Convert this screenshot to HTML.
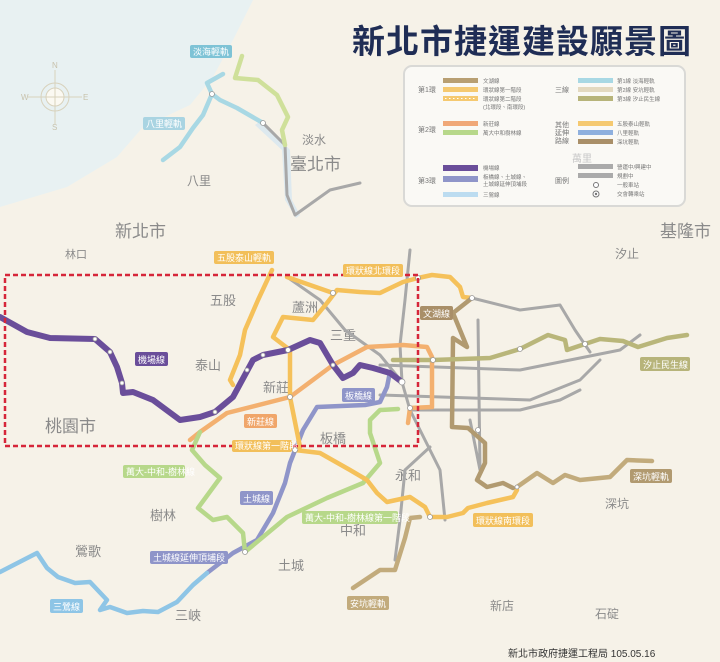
<!DOCTYPE html><html><head><meta charset="utf-8"><style>
body{margin:0;width:720px;height:662px;overflow:hidden;background:#f6f2e8;font-family:"Liberation Sans","Noto Sans CJK TC",sans-serif}
svg{display:block}
.d{font-size:17px;fill:#8a8a8a}
.b{font-size:9px;fill:#fff}
</style></head><body>
<svg width="720" height="662" viewBox="0 0 720 662" font-family="Liberation Sans, Noto Sans CJK TC, sans-serif">
<rect width="720" height="662" fill="#f6f2e8"/>
<path d="M0 0 L253 0 L233 40 L213 77 L190 105 L143 127 L117 157 L67 187 L0 207 Z" fill="#e8f1f2"/>
<path d="M262 120 L290 150 L292 200 L300 215 L296 218 L285 200 L282 150 L255 125 Z" fill="#dde9ef"/>
<g stroke="#d8d2bc" fill="none" stroke-width="1"><circle cx="55" cy="97" r="14"/><circle cx="55" cy="97" r="9" fill="#fbf9f2"/><path d="M55 70 L55 124 M28 97 L82 97"/></g>
<g font-size="8" fill="#c8c2ac"><text x="52" y="68">N</text><text x="52" y="130">S</text><text x="21" y="100">W</text><text x="83" y="100">E</text></g>
<text x="352" y="53" font-size="33" font-weight="bold" fill="#1f2d55" letter-spacing="1">新北市捷運建設願景圖</text>
<g class="d"><text x="290" y="170">臺北市</text><text x="115" y="237">新北市</text><text x="660" y="237">基隆市</text><text x="45" y="432">桃園市</text>
<text x="210" y="305" font-size="13">五股</text><text x="292" y="312" font-size="13">蘆洲</text><text x="330" y="340" font-size="13">三重</text><text x="195" y="370" font-size="13">泰山</text><text x="263" y="392" font-size="13">新莊</text><text x="320" y="443" font-size="13">板橋</text><text x="395" y="480" font-size="13">永和</text><text x="340" y="535" font-size="13">中和</text><text x="150" y="520" font-size="13">樹林</text><text x="75" y="556" font-size="13">鶯歌</text><text x="278" y="570" font-size="13">土城</text><text x="175" y="620" font-size="13">三峽</text><text x="187" y="185" font-size="12">八里</text><text x="302" y="144" font-size="12">淡水</text><text x="615" y="258" font-size="12">汐止</text><text x="605" y="508" font-size="12">深坑</text><text x="490" y="610" font-size="12">新店</text><text x="595" y="618" font-size="12">石碇</text><text x="65" y="258" font-size="11">林口</text></g>
<g fill="none" stroke="#a8a8a8" stroke-width="3" stroke-linecap="round" stroke-linejoin="round">
<path d="M263 123 L285 145 L287 195 L295 215 L330 190 L360 183"/>
<path d="M287 277 L320 300 L345 330 L380 355 L402 382"/>
<path d="M410 250 L405 300 L400 345 L402 382 L410 410 L425 440 L440 470 L445 520"/>
<path d="M472 298 L520 310 L560 305 L575 330 L590 352"/>
<path d="M380 365 L520 370 L620 350 L640 335"/>
<path d="M380 395 L530 400 L580 380 L600 360"/>
<path d="M410 410 L520 410 L560 400 L580 390"/>
<path d="M478 320 L480 470 L470 420"/>
<path d="M430 447 L405 470 L400 520 L395 560"/>
</g>
<g fill="none" stroke-width="4.5" stroke-linecap="round" stroke-linejoin="round">
<path stroke="#cfe09a" d="M242 56 L235 78 L258 80 L277 95 L288 117 L282 130 L285 145"/>
<path stroke="#a8d8e4" d="M223 74 L207 83 L212 94 L220 100 L237 108 L263 123 M212 94 L203 115 L193 128 L180 147 L163 160"/>
<path stroke="#f3b06f" d="M190 440 L200 432 L227 413 L290 397 L333 365 L367 347 L403 345 L427 347 L432 357 L432 407 L410 408 L408 423"/>
<path stroke="#8f95c9" d="M390 372 L387 387 L380 402 L365 405 L317 407 L303 430 L290 463 L285 483 L273 513 L257 540 L233 553 L207 573"/>
<path stroke="#8ec5e6" d="M207 573 L193 585 L177 602 L158 612 L143 611 L127 613 L110 607 L100 610 L107 600 L90 582 L75 583 L58 577 L47 568 L37 553 L0 572"/>
<path stroke="#b7d88a" d="M245 552 L243 533 L227 517 L213 520 L198 508 L220 478 L205 465 L192 450 L200 432 M245 552 L287 517 L327 498 L363 483 L380 463 L370 433 L370 420 L380 410 L398 409"/>
<path stroke="#f5c15a" d="M272 270 L258 300 L245 330 L240 355 L230 380 L233 385"/>
<path stroke="#f5c15a" d="M273 337 L283 317 L313 320 L327 303 L337 290 L360 292 L380 293 L403 282 L418 278 L432 275 L450 277 L460 287 L463 297 L472 298 M287 277 L310 285 L333 293 M273 337 L290 350 L290 397 L300 447 L295 450 L320 453 L350 470 L367 480 L377 493 L387 502 L410 497 L425 507 L430 517 L447 517 L463 513 L468 508 L487 503 L513 497 L517 490"/>
<path stroke="#b19a70" d="M472 298 L453 313 L467 347 L453 338 L452 427 L468 428 L485 443 L485 463 L477 480 L487 487 L503 483 L513 488"/>
<path stroke="#c2ab7c" d="M517 487 L537 473 L553 483 L565 475 L580 480 L610 477 L627 460 L652 461"/>
<path stroke="#c2ab7c" d="M353 588 L380 570 L395 570 L405 538 L410 518 L420 517"/>
<path stroke="#b9b67a" d="M393 360 L433 360 L490 358 L520 349 L548 335 L565 340 L567 350 L585 344 L600 339 L623 341 L638 347 L667 338 L687 335"/>
<path stroke="#6a4e9a" stroke-width="6" d="M0 317 L27 332 L50 338 L95 339 L110 352 L117 367 L122 383 L123 393 L133 392 L153 400 L180 420 L200 417 L215 412 L233 397 L253 360 L263 355 L288 350 L310 340 L320 343 L333 365 L343 378 L353 373 L360 365 L373 368 L390 373 L402 382"/>
</g>
<g fill="#fff" stroke="#999" stroke-width="0.8">
<circle cx="95" cy="339" r="2"/><circle cx="110" cy="352" r="2"/><circle cx="122" cy="383" r="2"/><circle cx="215" cy="412" r="2"/><circle cx="247" cy="370" r="2"/><circle cx="263" cy="355" r="2"/><circle cx="288" cy="350" r="2.5"/><circle cx="333" cy="365" r="2"/><circle cx="402" cy="382" r="3"/><circle cx="290" cy="397" r="2.5"/><circle cx="295" cy="450" r="2.5"/><circle cx="245" cy="552" r="2.5"/><circle cx="472" cy="298" r="2.5"/><circle cx="212" cy="94" r="2.5"/><circle cx="263" cy="123" r="2.5"/><circle cx="517" cy="487" r="2"/><circle cx="430" cy="517" r="2.5"/><circle cx="478" cy="430" r="2.5"/><circle cx="433" cy="360" r="2.5"/><circle cx="585" cy="344" r="2.5"/><circle cx="520" cy="349" r="2.5"/><circle cx="410" cy="408" r="2.5"/><circle cx="333" cy="293" r="2.5"/><circle cx="418" cy="278" r="2.5"/>
</g>
<rect x="5" y="275" width="413" height="171" fill="none" stroke="#d6263a" stroke-width="2.5" stroke-dasharray="5 3"/>
<g>
<rect x="190" y="45" width="42" height="13" rx="2" fill="#7ec3d6"/><text class="b" x="193" y="55">淡海輕軌</text>
<rect x="143" y="117" width="42" height="13" rx="2" fill="#a9d4e2"/><text class="b" x="146" y="127">八里輕軌</text>
<rect x="214" y="251" width="60" height="13" rx="2" fill="#f2bf5a"/><text class="b" x="217" y="261">五股泰山輕軌</text>
<rect x="343" y="264" width="60" height="13" rx="2" fill="#f2bf5a"/><text class="b" x="346" y="274">環狀線北環段</text>
<rect x="135" y="352" width="33" height="14" rx="2" fill="#6a4e9a"/><text class="b" x="138" y="363">機場線</text>
<rect x="244" y="414" width="33" height="14" rx="2" fill="#f0a66a"/><text class="b" x="247" y="425">新莊線</text>
<rect x="342" y="388" width="33" height="14" rx="2" fill="#8f95c9"/><text class="b" x="345" y="399">板橋線</text>
<rect x="420" y="306" width="33" height="14" rx="2" fill="#a98f68"/><text class="b" x="423" y="317">文湖線</text>
<rect x="640" y="357" width="50" height="14" rx="2" fill="#b7b47a"/><text class="b" x="643" y="368">汐止民生線</text>
<rect x="630" y="469" width="42" height="14" rx="2" fill="#b19a70"/><text class="b" x="633" y="480">深坑輕軌</text>
<rect x="473" y="513" width="60" height="14" rx="2" fill="#f2bf5a"/><text class="b" x="476" y="524">環狀線南環段</text>
<rect x="123" y="465" width="62" height="13" rx="2" fill="#b7d88a"/><text class="b" x="126" y="475">萬大-中和-樹林線</text>
<rect x="302" y="511" width="96" height="13" rx="2" fill="#b7d88a"/><text class="b" x="305" y="521">萬大-中和-樹林線第一階段</text>
<rect x="240" y="491" width="33" height="14" rx="2" fill="#8f95c9"/><text class="b" x="243" y="502">土城線</text>
<rect x="150" y="551" width="78" height="13" rx="2" fill="#8f95c9"/><text class="b" x="153" y="561">土城線延伸頂埔段</text>
<rect x="50" y="599" width="33" height="14" rx="2" fill="#8ec5e6"/><text class="b" x="53" y="610">三鶯線</text>
<rect x="347" y="596" width="42" height="14" rx="2" fill="#c2ab7c"/><text class="b" x="350" y="607">安坑輕軌</text>
<rect x="232" y="440" width="60" height="12" rx="2" fill="#f2bf5a"/><text class="b" x="235" y="449">環狀線第一階段</text>
</g>
<rect x="404" y="66" width="281" height="140" rx="8" fill="#fbfaf6" fill-opacity="0.9" stroke="#d9d9d6" stroke-width="2"/>
<g font-size="5.5" fill="#777">
<text x="418" y="92" font-size="7">第1環</text><text x="418" y="132" font-size="7">第2環</text><text x="418" y="183" font-size="7">第3環</text>
<rect x="443" y="78" width="35" height="5" fill="#b89f72"/><text x="483" y="83">文湖線</text>
<rect x="443" y="87" width="35" height="5" fill="#f5c970"/><text x="483" y="92">環狀線第一階段</text>
<rect x="443" y="96" width="35" height="5" fill="#f5c970"/><text x="483" y="101">環狀線第二階段</text><text x="483" y="109">(北環段、南環段)</text>
<rect x="443" y="121" width="35" height="5" fill="#f0a878"/><text x="483" y="126">新莊線</text>
<rect x="443" y="130" width="35" height="5" fill="#b7d88a"/><text x="483" y="135">萬大中和樹林線</text>
<rect x="443" y="165" width="35" height="6" fill="#6a4e9a"/><text x="483" y="170">機場線</text>
<rect x="443" y="176" width="35" height="6" fill="#8f95c9"/><text x="483" y="179">板橋線、土城線、</text><text x="483" y="186">土城線延伸頂埔段</text>
<rect x="443" y="192" width="35" height="5" fill="#bcdcf0"/><text x="483" y="197">三鶯線</text>
<text x="555" y="92" font-size="7">三線</text><text x="555" y="127" font-size="7">其他</text><text x="555" y="135" font-size="7">延伸</text><text x="555" y="143" font-size="7">路線</text><text x="555" y="183" font-size="7">圖例</text>
<rect x="578" y="78" width="35" height="5" fill="#a8d8e4"/><text x="617" y="83">第1線 淡海輕軌</text>
<rect x="578" y="87" width="35" height="5" fill="#e3d9c0"/><text x="617" y="92">第2線 安坑輕軌</text>
<rect x="578" y="96" width="35" height="5" fill="#b7b47a"/><text x="617" y="101">第3線 汐止民生線</text>
<rect x="578" y="121" width="35" height="5" fill="#f5c970"/><text x="617" y="126">五股泰山輕軌</text>
<rect x="578" y="130" width="35" height="5" fill="#8fb0de"/><text x="617" y="135">八里輕軌</text>
<rect x="578" y="139" width="35" height="5" fill="#a98f68"/><text x="617" y="144">深坑輕軌</text>
<text x="572" y="162" font-size="10" fill="#c6c6c6">萬里</text>
<rect x="578" y="164" width="35" height="5" fill="#aaa"/><text x="617" y="169">營運中/興建中</text>
<rect x="578" y="173" width="35" height="5" fill="#aaa"/><text x="617" y="178">規劃中</text>
<circle cx="596" cy="185" r="2.5" fill="#fff" stroke="#777"/><text x="617" y="187">一般車站</text>
<circle cx="596" cy="194" r="3" fill="#fff" stroke="#777"/><circle cx="596" cy="194" r="1.2" fill="#777"/><text x="617" y="196">交會轉乘站</text>
</g>
<path d="M445 98.5 h31" stroke="#fff" stroke-dasharray="1.5 2.5"/>
<text x="508" y="657" font-size="10" fill="#333">新北市政府捷運工程局 105.05.16</text>
</svg>
</body></html>
